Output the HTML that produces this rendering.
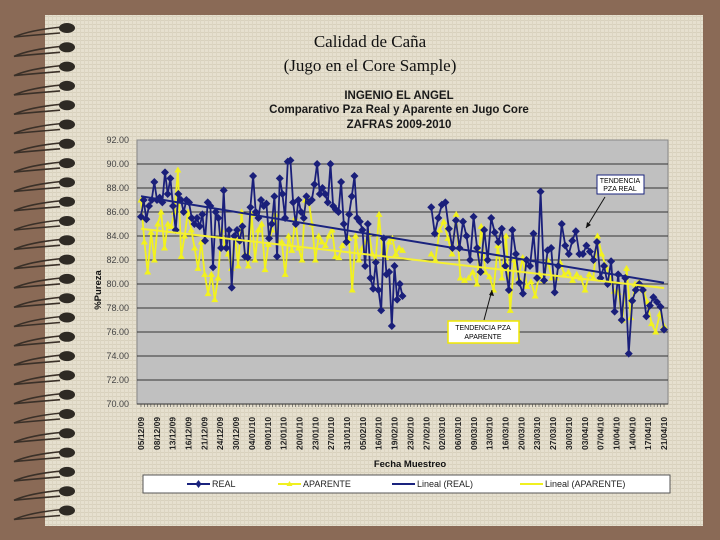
<!DOCTYPE html>
<html><head><meta charset="utf-8"><style>
html,body{margin:0;padding:0;width:720px;height:540px;overflow:hidden;background:#8a6a56;}
svg{display:block}
</style></head><body>
<svg width="720" height="540" xmlns="http://www.w3.org/2000/svg" id="root">
<defs>
<pattern id="linen" width="4" height="4" patternUnits="userSpaceOnUse">
<rect width="4" height="4" fill="#e6e0cf"/><rect width="4" height="1" fill="#d8d1bd"/><rect width="1" height="4" fill="#dcd5c2"/>
</pattern>
</defs>
<rect x="0" y="0" width="720" height="540" fill="#8a6a56"/>
<rect x="45" y="15" width="658" height="511" fill="url(#linen)"/>
<g id="spiral"></g>
<text x="370" y="47" font-family="Liberation Serif, serif" font-size="17" text-anchor="middle" fill="#111">Calidad de Caña</text>
<text x="370" y="71" font-family="Liberation Serif, serif" font-size="17" text-anchor="middle" fill="#111">(Jugo en el Core Sample)</text>
<g font-family="Liberation Sans, sans-serif" font-weight="bold" font-size="11.5" fill="#1a1a1a" text-anchor="middle">
<text x="399" y="99">INGENIO EL ANGEL</text>
<text x="399" y="113">Comparativo Pza Real y Aparente en Jugo Core</text>
<text x="399" y="128">ZAFRAS 2009-2010</text>
</g>
<rect x="137" y="140" width="531" height="264" fill="#c0c0c0" stroke="#888"/>
<g id="grid"></g>
<g id="yticks" font-family="Liberation Sans, sans-serif" font-size="9" fill="#444" text-anchor="end"></g>
<text transform="translate(101,290) rotate(-90)" font-family="Liberation Sans, sans-serif" font-weight="bold" font-size="9.5" text-anchor="middle" fill="#111">%Pureza</text>
<g id="xticks" font-family="Liberation Sans, sans-serif" font-weight="bold" font-size="8.5" fill="#222"></g>
<text x="410" y="467" font-family="Liberation Sans, sans-serif" font-weight="bold" font-size="9.5" text-anchor="middle" fill="#111">Fecha Muestreo</text>
<g id="series"></g>
<g>
<rect x="597" y="175" width="47" height="19" fill="#fff" stroke="#1a237e"/>
<text x="620" y="183" font-family="Liberation Sans, sans-serif" font-size="7" text-anchor="middle">TENDENCIA</text>
<text x="620" y="191" font-family="Liberation Sans, sans-serif" font-size="7" text-anchor="middle">PZA REAL</text>
<line x1="605" y1="197" x2="586" y2="228" stroke="#111" stroke-width="1"/>
<path d="M586,228 l1,-6 l4,3 z" fill="#111"/>
</g>
<g>
<line x1="484" y1="320" x2="492" y2="290" stroke="#111" stroke-width="1"/>
<path d="M492,290 l-3,5 l5,1 z" fill="#111"/>
<rect x="448" y="321" width="71" height="22" fill="#fff" stroke="#f0e800" stroke-width="1.5"/>
<text x="483" y="330" font-family="Liberation Sans, sans-serif" font-size="7" text-anchor="middle">TENDENCIA PZA</text>
<text x="483" y="339" font-family="Liberation Sans, sans-serif" font-size="7" text-anchor="middle">APARENTE</text>
</g>
<g font-family="Liberation Sans, sans-serif" font-size="9" fill="#222">
<rect x="143" y="475" width="527" height="18" fill="#fff" stroke="#555"/>
<g><line x1="187" y1="484" x2="210" y2="484" stroke="#1a237e" stroke-width="2"/><path d="M198.5,480 l3,4 l-3,4 l-3,-4z" fill="#1a237e"/><text x="212" y="487">REAL</text></g>
<g><line x1="278" y1="484" x2="301" y2="484" stroke="#f0f020" stroke-width="2"/><path d="M289.5,481 l3,5 l-6,0z" fill="#f0f020"/><text x="303" y="487">APARENTE</text></g>
<g><line x1="392" y1="484" x2="415" y2="484" stroke="#1a237e" stroke-width="2"/><text x="417" y="487">Lineal (REAL)</text></g>
<g><line x1="520" y1="484" x2="543" y2="484" stroke="#f0f020" stroke-width="2"/><text x="545" y="487">Lineal (APARENTE)</text></g>
</g>
</svg>
<script>
const yTicks=[70,72,74,76,78,80,82,84,86,88,90,92];
const dateLabels=["05/12/09","08/12/09","13/12/09","16/12/09","21/12/09","24/12/09","30/12/09","04/01/10","09/01/10","12/01/10","20/01/10","23/01/10","27/01/10","31/01/10","05/02/10","16/02/10","19/02/10","23/02/10","27/02/10","02/03/10","06/03/10","09/03/10","13/03/10","16/03/10","20/03/10","23/03/10","27/03/10","30/03/10","03/04/10","07/04/10","10/04/10","14/04/10","17/04/10","21/04/10"];
const realPre=[85.6,87,85.4,86.5,87,88.5,87,87.2,86.8,89.3,87.5,88.8,86.5,84.5,87.5,87,86,87,86.8,85.5,85,85.5,84.8,85.8,83.6,86.8,86.5,81.4,86,85.5,83,87.8,83,84.5,79.7,84,84.5,83.6,84.8,82.3,82.2,86.4,89,86,85.5,87,86.5,86.7,83.8,85,87.3,82.3,88.8,87.5,85.5,90.2,90.3,86.8,85,87,86,85.5,87.3,86.8,87,88.3,90,87.5,88,87.5,86.8,90,86.5,86.2,86,88.5,85,83.5,85.8,87.3,89,85.5,85.2,84.5,81.5,85,80.5,79.6,81.8,79.5,77.8,83.8,80.8,81,76.5,81.5,78.7,80,79];
const realPost=[86.4,84.2,85.5,86.6,86.8,84.6,83,85.3,83,85.2,84,82,85.6,83,81,84.5,82,85.5,84.3,83.5,84.6,81.5,79.5,84.5,82.5,80.1,79.2,82,81.5,84.2,80.5,87.7,80.3,82.8,83,79.3,81.5,85,83.2,82.5,83.6,84.4,82.5,82.5,83.2,82.7,82,83.5,80.5,81.5,80,81.9,77.7,80.8,77,80.5,74.2,78.6,79.5,80,79.5,77.3,78.2,78.9,78.5,78.1,76.2];
const apPre=[87,83.5,81,84.3,82,85,86,83,85,84.8,86,89.5,82.3,84,86,84.5,83,81.3,83.5,80.8,79.2,80.8,78.7,80.5,84.5,83.2,82.5,81.3,84,81.5,86,82.5,81.5,85.8,82,84.5,85,81.2,83.3,84.5,85.8,83.5,83.5,80.8,84,82.8,85.5,83,82,87,87,85,82,84,83.5,83.2,84,84.5,82.3,82.2,83.2,83.5,83.8,79.5,84,82,83,83.5,84.2,82.5,82,85.8,82.5,82.2,83.5,83.8,82.5,83,82.8];
const apPost=[82.5,82,84.5,85.2,83.8,82.5,85.8,80.5,80.3,80.5,81,80,84.8,81,80.6,79.5,83.2,80.5,84,77.8,82,80.5,82.2,79.8,80.2,79,80.8,80.3,82,80.5,80.5,81.8,80.8,81,80.3,80.8,80.5,79.5,80.8,80.5,84,82.5,81.5,80.5,79.4,79.3,77,81.3,77.2,80,80.2,79.5,78.5,76.7,76,77.5,76.5];
const segPre=[0.0,0.5], segPost=[0.555,1.0];

const NS="http://www.w3.org/2000/svg";
const X0=137,X1=668,Y0=140,Y1=404,VMIN=70,VMAX=92;
const xs=t=>X0+4+t*(X1-X0-8);
const ys=v=>Y1-(v-VMIN)/(VMAX-VMIN)*(Y1-Y0);
function mk(tag,attrs,parent){const e=document.createElementNS(NS,tag);for(const k in attrs)e.setAttribute(k,attrs[k]);parent.appendChild(e);return e;}

const sp=document.getElementById('spiral');
for(let i=0;i<26;i++){const y=27+i*19.3;
 const w=mk('path',{d:`M62,${y} Q30,${y+3} 14,${y+10} Q35,${y+8} 60,${y+6}`,fill:'none',stroke:'#3a3028','stroke-width':'1.6'},sp);
 
 
 const h=mk('ellipse',{cx:67,cy:y+1,rx:8,ry:5,fill:'#2e2a24'},sp);
 
 
}
const g=document.getElementById('grid'),yt=document.getElementById('yticks');
yTicks.forEach(v=>{
 if(v>VMIN&&v<VMAX){const l=mk('line',{x1:X0,x2:X1,y1:ys(v),y2:ys(v),stroke:'#333','stroke-width':'1'},g);
 
 }
 const t=mk('text',{x:129,y:ys(v)+3},yt);t.textContent=v.toFixed(2);
 
 
});
mk('line',{x1:X0,x2:X1,y1:Y1,y2:Y1,stroke:'#333'},g);
const xt=document.getElementById('xticks');
dateLabels.forEach((d,i)=>{const x=xs(i/(dateLabels.length-1))+3;
 const t=mk('text',{transform:`translate(${x},450) rotate(-90)`},xt);t.textContent=d;
 
 
});
for(let i=0;i<160;i++){mk('line',{x1:xs(i/159),x2:xs(i/159),y1:Y1,y2:Y1+3,stroke:'#444','stroke-width':'0.6'},xt);}
const sg=document.getElementById('series');
function pts(vals,seg){return vals.map((v,i)=>[seg[0]+(seg[1]-seg[0])*i/(vals.length-1),v]);}
function pathOf(arr){return arr.map((p,i)=>(i?'L':'M')+xs(p[0]).toFixed(1)+','+ys(p[1]).toFixed(1)).join(' ');}
function draw(pre,post,color,marker,name){
 const a=pts(pre,segPre),b=pts(post,segPost);
 const all=a.concat(b);
 const gg=mk('g',{},sg);
 
 
 mk('path',{d:pathOf(a)+' '+pathOf(b),fill:'none',stroke:color,'stroke-width':'1.8'},gg);
 all.forEach(p=>{const x=xs(p[0]),y=ys(p[1]);
  const m=marker==='d'?mk('path',{d:`M${x},${y-4} l4,4 l-4,4 l-4,-4z`,fill:color},gg):mk('path',{d:`M${x},${y-3.5} l3.5,6 l-7,0z`,fill:color},gg);
  
  
 });
 return all;
}
function trend(all,color,name){
 const n=all.length;let sx=0,sy=0,sxx=0,sxy=0;
 all.forEach(p=>{sx+=p[0];sy+=p[1];sxx+=p[0]*p[0];sxy+=p[0]*p[1];});
 const b=(n*sxy-sx*sy)/(n*sxx-sx*sx),a=(sy-b*sx)/n;
 const l=mk('line',{x1:xs(0),y1:ys(a),x2:xs(1),y2:ys(a+b),stroke:color,'stroke-width':'2'},sg);
 
 
}
const apAll=draw(apPre,apPost,'#f2f21e','t','aparente');
const realAll=draw(realPre,realPost,'#1a1f7a','d','real');
trend(realAll,'#1a237e','trend-real');
trend(apAll,'#f5f032','trend-aparente');
</script>
</body></html>
